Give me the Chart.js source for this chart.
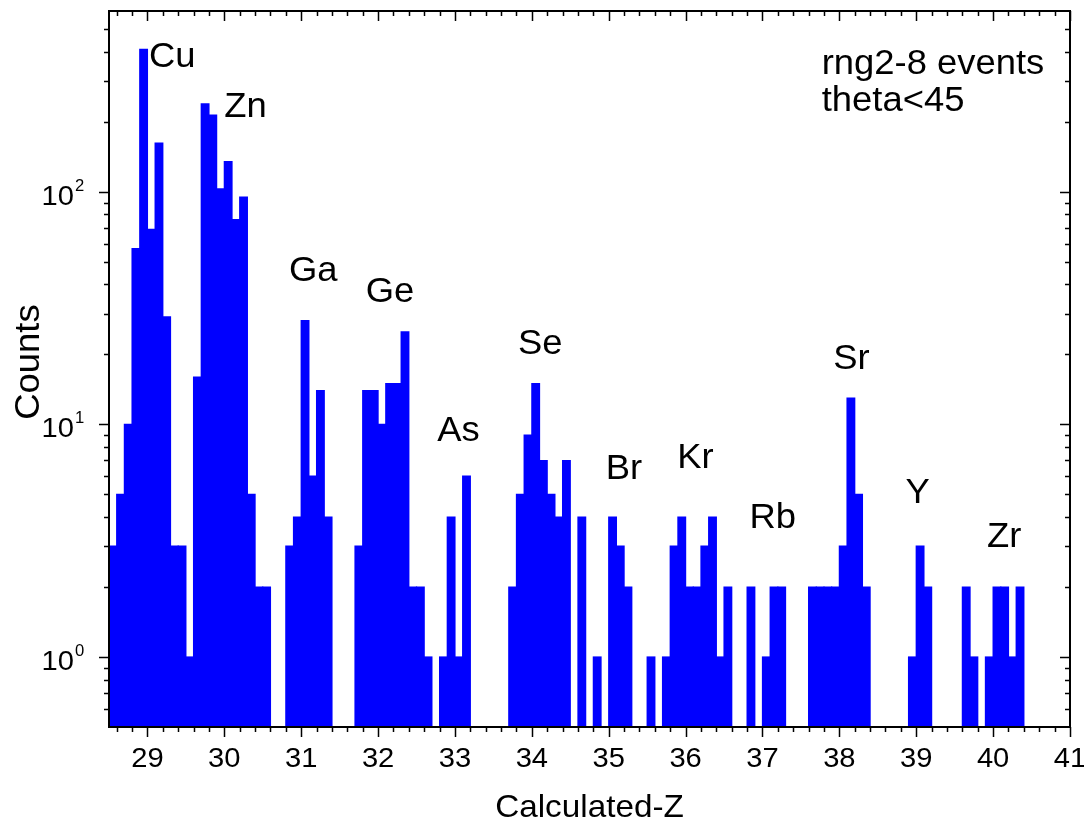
<!DOCTYPE html>
<html>
<head>
<meta charset="utf-8">
<title>Calculated-Z histogram</title>
<script src="https://cdn.jsdelivr.net/npm/chart.js@4.4.1/dist/chart.umd.min.js"></script>
<style>
  html, body { margin: 0; padding: 0; background: #fff; }
  #wrap { width: 1084px; height: 822px; position: relative; }
</style>
</head>
<body>
<div id="wrap"><canvas id="zChart"></canvas></div>
<script>
// Histogram data: counts per 0.1 bin, first bin starts at 28.5
const binStart = 28.5;
const binWidth = 0.1;
const counts = [
  3, 5, 10, 57, 410, 69, 162, 29, 3, 3,      // 28.5 - 29.4
  1, 16, 239, 214, 103, 135, 76, 95, 5, 2,   // 29.5 - 30.4
  2, 0, 0, 3, 4, 28, 6, 14, 4, 0,            // 30.5 - 31.4
  0, 0, 3, 14, 14, 10, 15, 15, 25, 2,        // 31.5 - 32.4
  2, 1, 0, 1, 4, 1, 6, 0, 0, 0,              // 32.5 - 33.4
  0, 0, 2, 5, 9, 15, 7, 5, 4, 7,             // 33.5 - 34.4
  0, 4, 0, 1, 0, 4, 3, 2, 0, 0,              // 34.5 - 35.4
  1, 0, 1, 3, 4, 2, 2, 3, 4, 1,              // 35.5 - 36.4
  2, 0, 0, 2, 0, 1, 2, 2, 0, 0,              // 36.5 - 37.4
  0, 2, 2, 2, 2, 3, 13, 5, 2, 0,             // 37.5 - 38.4
  0, 0, 0, 0, 1, 3, 2, 0, 0, 0,              // 38.5 - 39.4
  0, 2, 1, 0, 1, 2, 2, 1, 2                  // 39.5 - 40.3
];

// Axis ticks
const xMin = 28.5, xMax = 41;
const xTickLabels = [29, 30, 31, 32, 33, 34, 35, 36, 37, 38, 39, 40, 41];
const yMin = 0.5, yMax = 600;
const yMajor = [1, 10, 100];
const yExponent = ['0', '1', '2'];
const yMinor = [0.6, 0.7, 0.8, 0.9, 2, 3, 4, 5, 6, 7, 8, 9,
                20, 30, 40, 50, 60, 70, 80, 90, 200, 300, 400, 500];

// Element labels (left edge x, baseline y in data units)
const elementNames = ['Cu', 'Zn', 'Ga', 'Ge', 'As', 'Se', 'Br', 'Kr', 'Rb', 'Sr', 'Y', 'Zr'];
const elementX = [29.02, 30.0, 30.84, 31.84, 32.77, 33.82, 34.96, 35.89, 36.83, 37.92, 38.86, 39.92];
const elementY = [344, 210, 41.4, 33.6, 8.49, 20.1, 5.83, 6.52, 3.6, 17.3, 4.61, 2.96];

const noteLines = ['rng2-8 events', 'theta<45'];
const noteX = 37.77;
const noteY = [322, 223];

const FONT = '"Liberation Sans", Arial, Helvetica, sans-serif';
const STRETCH = 1.04;

const barData = counts.map((c, i) => ({
  x: +(binStart + binWidth * (i + 0.5)).toFixed(2),
  y: c > 0 ? c : null
}));

function drawText(ctx, text, x, y, size, align, angle) {
  ctx.save();
  ctx.translate(x, y);
  if (angle) ctx.rotate(angle);
  ctx.scale(STRETCH, 1);
  ctx.font = size + 'px ' + FONT;
  ctx.fillStyle = '#000';
  ctx.textAlign = align;
  ctx.textBaseline = 'alphabetic';
  ctx.fillText(text, 0, 0);
  ctx.restore();
}

// frame, ticks and all text drawn over the bars
const framePlugin = {
  id: 'originFrame',
  afterDatasetsDraw(chart) {
    const ctx = chart.ctx;
    const xs = chart.scales.x, ys = chart.scales.y;
    const a = chart.chartArea;

    ctx.save();
    ctx.strokeStyle = '#000';
    ctx.lineWidth = 2;
    ctx.strokeRect(a.left, a.top, a.right - a.left, a.bottom - a.top);

    ctx.lineWidth = 1.5;
    ctx.beginPath();
    // x ticks: outward at bottom, inward at top
    for (let i = 28; i <= 41; i++) {
      for (let k = 0; k < 5; k++) {
        const v = i + k * 0.2;
        if (v < xMin - 1e-9 || v > xMax + 1e-9) continue;
        const px = Math.round(xs.getPixelForValue(v)) + 0.5;
        const len = k === 0 ? 10 : 5;
        ctx.moveTo(px, a.bottom); ctx.lineTo(px, a.bottom + len);
        ctx.moveTo(px, a.top); ctx.lineTo(px, a.top + len);
      }
    }
    // y ticks: outward at left, inward at right
    yMajor.concat(yMinor).forEach(v => {
      const py = Math.round(ys.getPixelForValue(v)) + 0.5;
      const len = yMajor.includes(v) ? 10 : 5;
      ctx.moveTo(a.left, py); ctx.lineTo(a.left - len, py);
      ctx.moveTo(a.right, py); ctx.lineTo(a.right - len, py);
    });
    ctx.stroke();
    ctx.restore();

    // tick labels
    xTickLabels.forEach(v => {
      drawText(ctx, String(v), xs.getPixelForValue(v), a.bottom + 40, 28, 'center');
    });
    yMajor.forEach((v, i) => {
      const py = ys.getPixelForValue(v);
      drawText(ctx, '10', a.left - 35, py + 13, 28, 'right');
      drawText(ctx, yExponent[i], a.left - 34, py - 1, 16, 'left');
    });

    // axis titles
    drawText(ctx, 'Calculated-Z', (a.left + a.right) / 2, 817, 32, 'center');
    drawText(ctx, 'Counts', 39, 362, 35, 'center', -Math.PI / 2);

    // element labels and note
    elementNames.forEach((name, i) => {
      drawText(ctx, name, xs.getPixelForValue(elementX[i]), ys.getPixelForValue(elementY[i]), 35, 'left');
    });
    noteLines.forEach((line, i) => {
      drawText(ctx, line, xs.getPixelForValue(noteX), ys.getPixelForValue(noteY[i]), 35, 'left');
    });
  }
};

new Chart(document.getElementById('zChart'), {
  type: 'bar',
  data: {
    datasets: [{
      label: 'Counts',
      data: barData,
      backgroundColor: '#0000ff',
      borderWidth: 0,
      inflateAmount: 0.6,
      barPercentage: 1,
      categoryPercentage: 1
    }]
  },
  options: {
    responsive: true,
    maintainAspectRatio: false,
    animation: false,
    layout: { padding: { left: 109, right: 14, top: 11, bottom: 95 } },
    scales: {
      x: { type: 'linear', min: xMin, max: xMax, offset: false, display: false },
      y: { type: 'logarithmic', min: yMin, max: yMax, display: false }
    },
    plugins: {
      legend: { display: false },
      tooltip: { enabled: false }
    }
  },
  plugins: [framePlugin]
});
</script>
</body>
</html>
